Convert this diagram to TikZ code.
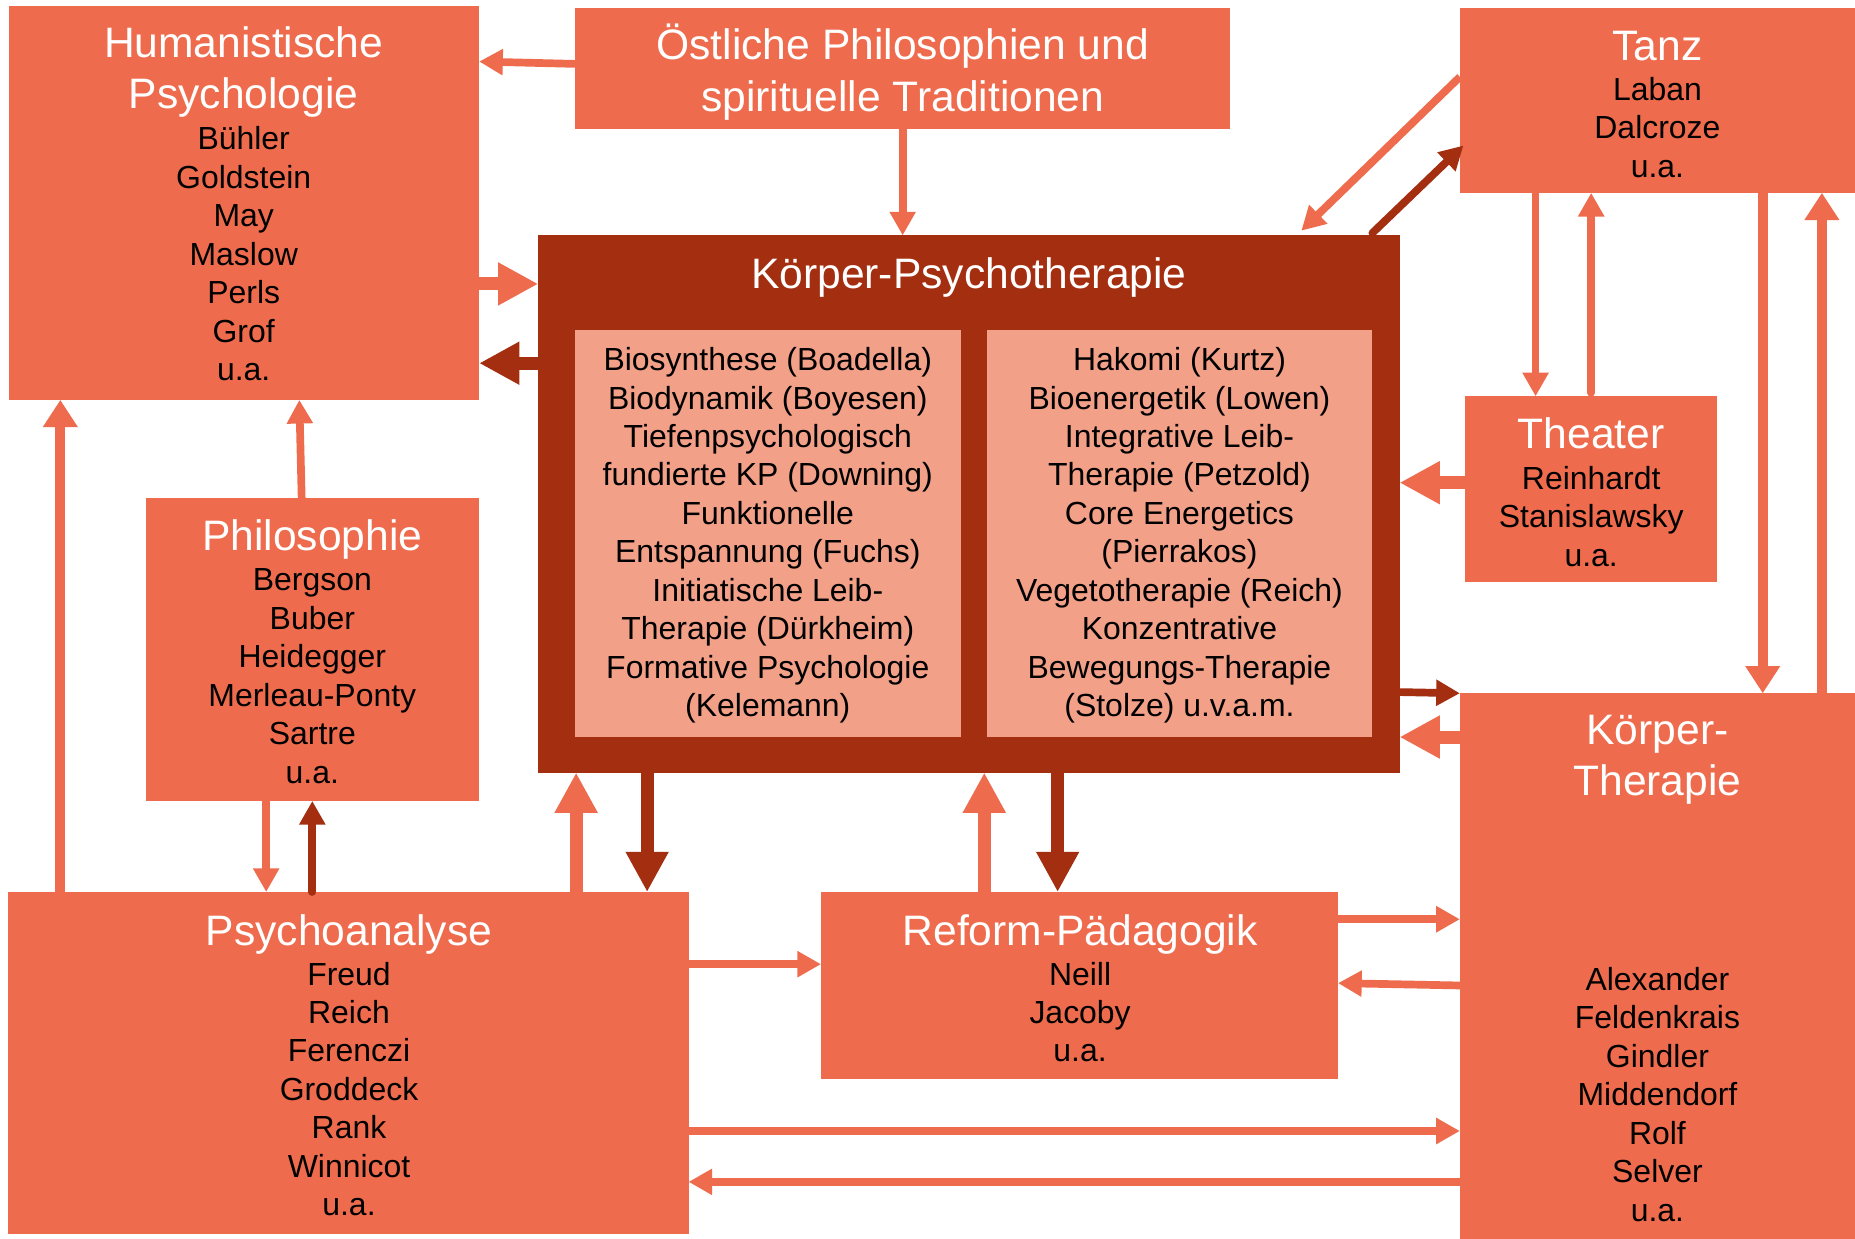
\documentclass[tikz,border=0pt]{standalone}
\usepackage{fontspec}
\setmainfont{Liberation Sans}
\usetikzlibrary{arrows.meta,calc}
\definecolor{boxorange}{RGB}{238,108,77}
\definecolor{boxdark}{RGB}{163,46,16}
\definecolor{boxlight}{RGB}{242,160,136}
\begin{document}
\begin{tikzpicture}[x=1pt,y=-1pt,
  box/.style={anchor=north west,inner sep=0pt,outer sep=0pt,fill=boxorange},
  ttl/.style={text=white,align=center,inner sep=0pt,font=\fontsize{36}{43.5}\selectfont},
  ttlb/.style={ttl,anchor=base},
  nm/.style={text=black,align=center,inner sep=0pt,font=\fontsize{27}{32.5}\selectfont},
  arrS/.style={line width=6.5pt,-{Triangle[width=21pt,length=20pt]}},
  arrM/.style={line width=8.5pt,-{Triangle[width=28pt,length=23pt]}},
  arrL/.style={line width=11pt,-{Triangle[width=34pt,length=34pt]}},
  lite/.style={draw=boxorange},
  deep/.style={draw=boxdark}]

\fill[white] (0,0) rectangle (1568,1047);
\useasboundingbox (0,0) rectangle (1568,1047);

% boxes
\node[box,minimum width=397pt,minimum height=333pt] (hum) at (8,5) {};
\node[box,minimum width=554pt,minimum height=102pt] (ost) at (486,7) {};
\node[box,minimum width=334pt,minimum height=156pt] (tanz) at (1234,7) {};
\node[box,fill=boxdark,minimum width=728pt,minimum height=454pt] (kpt) at (455,199) {};
\node[box,fill=boxlight,minimum width=326pt,minimum height=344pt] (kptL) at (486,279) {};
\node[box,fill=boxlight,minimum width=326pt,minimum height=344pt] (kptR) at (834,279) {};
\node[box,minimum width=213pt,minimum height=157pt] (thea) at (1238,335) {};
\node[box,minimum width=282pt,minimum height=256pt] (phil) at (123,421) {};
\node[box,minimum width=575pt,minimum height=289pt] (psa) at (7,754) {};
\node[box,minimum width=437pt,minimum height=158pt] (ref) at (694,754) {};
\node[box,minimum width=334pt,minimum height=461pt] (kt) at (1234,586) {};

% titles
\node[ttl] (humT) at (206,61) {Humanistische\\Psychologie};
\node[ttl] (ostT) at (763,61) {Östliche Philosophien und\\spirituelle Traditionen};
\node[ttlb] (tanzT) at (1401,51) {Tanz};
\node[ttlb] (kptT) at (819,244) {Körper-Psychotherapie};
\node[ttlb] (theaT) at (1345,379) {Theater};
\node[ttlb] (philT) at (264,465) {Philosophie};
\node[ttlb] (psaT) at (295,799) {Psychoanalyse};
\node[ttlb] (refT) at (913,799) {Reform-Pädagogik};
\node[ttl] (ktT) at (1401,642) {Körper-\\Therapie};

% names
\node[nm] (humN) at (206,214.5) {Bühler\\Goldstein\\May\\Maslow\\Perls\\Grof\\u.a.};
\node[nm] (tanzN) at (1401,107.5) {Laban\\Dalcroze\\u.a.};
\node[nm] (kptLN) at (649,452.5) {Biosynthese (Boadella)\\Biodynamik (Boyesen)\\Tiefenpsychologisch\\fundierte KP (Downing)\\Funktionelle\\Entspannung (Fuchs)\\Initiatische Leib-\\Therapie (Dürkheim)\\Formative Psychologie\\(Kelemann)};
\node[nm] (kptRN) at (997,452.5) {Hakomi (Kurtz)\\Bioenergetik (Lowen)\\Integrative Leib-\\Therapie (Petzold)\\Core Energetics\\(Pierrakos)\\Vegetotherapie (Reich)\\Konzentrative\\Bewegungs-Therapie\\(Stolze) u.v.a.m.};
\node[nm] (theaN) at (1345,436.5) {Reinhardt\\Stanislawsky\\u.a.};
\node[nm] (philN) at (264,571.5) {Bergson\\Buber\\Heidegger\\Merleau-Ponty\\Sartre\\u.a.};
\node[nm] (psaN) at (295,920.5) {Freud\\Reich\\Ferenczi\\Groddeck\\Rank\\Winnicot\\u.a.};
\node[nm] (refN) at (913,855.5) {Neill\\Jacoby\\u.a.};
\node[nm] (ktN) at (1401,925) {Alexander\\Feldenkrais\\Gindler\\Middendorf\\Rolf\\Selver\\u.a.};

% connectors
\draw[arrS,lite] ($(ost.north west)+(0,47)$) -- ($(hum.north east)+(0,47)$);
\draw[arrS,lite] ($(ost.south west)+(277,0)$) -- ($(kpt.north west)+(308,0)$);
\draw[arrL,lite] ($(hum.north east)+(0,235)$) -- ($(kpt.north west)+(0,41)$);
\draw[arrL,deep] ($(kpt.north west)+(0,108)$) -- ($(hum.north east)+(0,302)$);
\draw[arrS,lite,line cap=round] ($(phil.north west)+(132,0)$) -- ($(hum.south west)+(245,0)$);
\draw[arrM,lite] ($(psa.north west)+(44,0)$) -- ($(hum.south west)+(43,0)$);
\draw[arrS,lite] ($(phil.south west)+(102,0)$) -- ($(psa.north west)+(218,0)$);
\draw[arrS,deep,line cap=round] ($(psa.north west)+(257,0)$) -- ($(phil.south west)+(141,0)$);
\draw[arrL,lite] ($(psa.north west)+(480,0)$) -- ($(kpt.south west)+(32,0)$);
\draw[arrL,deep] ($(kpt.south west)+(92,0)$) -- ($(psa.north west)+(540,0)$);
\draw[arrL,lite] ($(ref.north west)+(138,0)$) -- ($(kpt.south west)+(377,0)$);
\draw[arrL,deep] ($(kpt.south west)+(439,0)$) -- ($(ref.north west)+(200,0)$);
\draw[arrS,lite] ($(psa.north east)+(0,61)$) -- ($(ref.north west)+(0,61)$);
\draw[arrS,lite] ($(ref.north east)+(0,23)$) -- ($(kt.north west)+(0,191)$);
\draw[arrS,lite] ($(kt.north west)+(0,247)$) -- ($(ref.north east)+(0,77)$);
\draw[arrS,lite] ($(psa.north east)+(0,202)$) -- ($(kt.north west)+(0,370)$);
\draw[arrS,lite] ($(kt.north west)+(0,413)$) -- ($(psa.north east)+(0,245)$);
\draw[arrS,deep] ($(kpt.north east)+(0,386)$) -- (kt.north west);
\draw[arrL,lite] ($(kt.north west)+(0,37)$) -- ($(kpt.north east)+(0,424)$);
\draw[arrL,lite] ($(thea.north west)+(0,73)$) -- ($(kpt.north east)+(0,209)$);
\draw[arrS,lite] ($(tanz.south west)+(64,0)$) -- ($(thea.north west)+(60,0)$);
\draw[arrS,lite,line cap=round] ($(thea.north west)+(107,-3)$) -- ($(tanz.south west)+(111,0)$);
\draw[arrM,lite] ($(tanz.south west)+(256,0)$) -- ($(kt.north west)+(256,0)$);
\draw[arrM,lite] ($(kt.north west)+(306,0)$) -- ($(tanz.south west)+(306,0)$);
\draw[arrS,lite] ($(tanz.north west)+(0,58)$) -- ($(kpt.north east)+(-83,-4)$);
\draw[arrS,deep,line cap=round] ($(kpt.north east)+(-23,-2)$) -- ($(tanz.north west)+(3,116)$);
\end{tikzpicture}
\end{document}
